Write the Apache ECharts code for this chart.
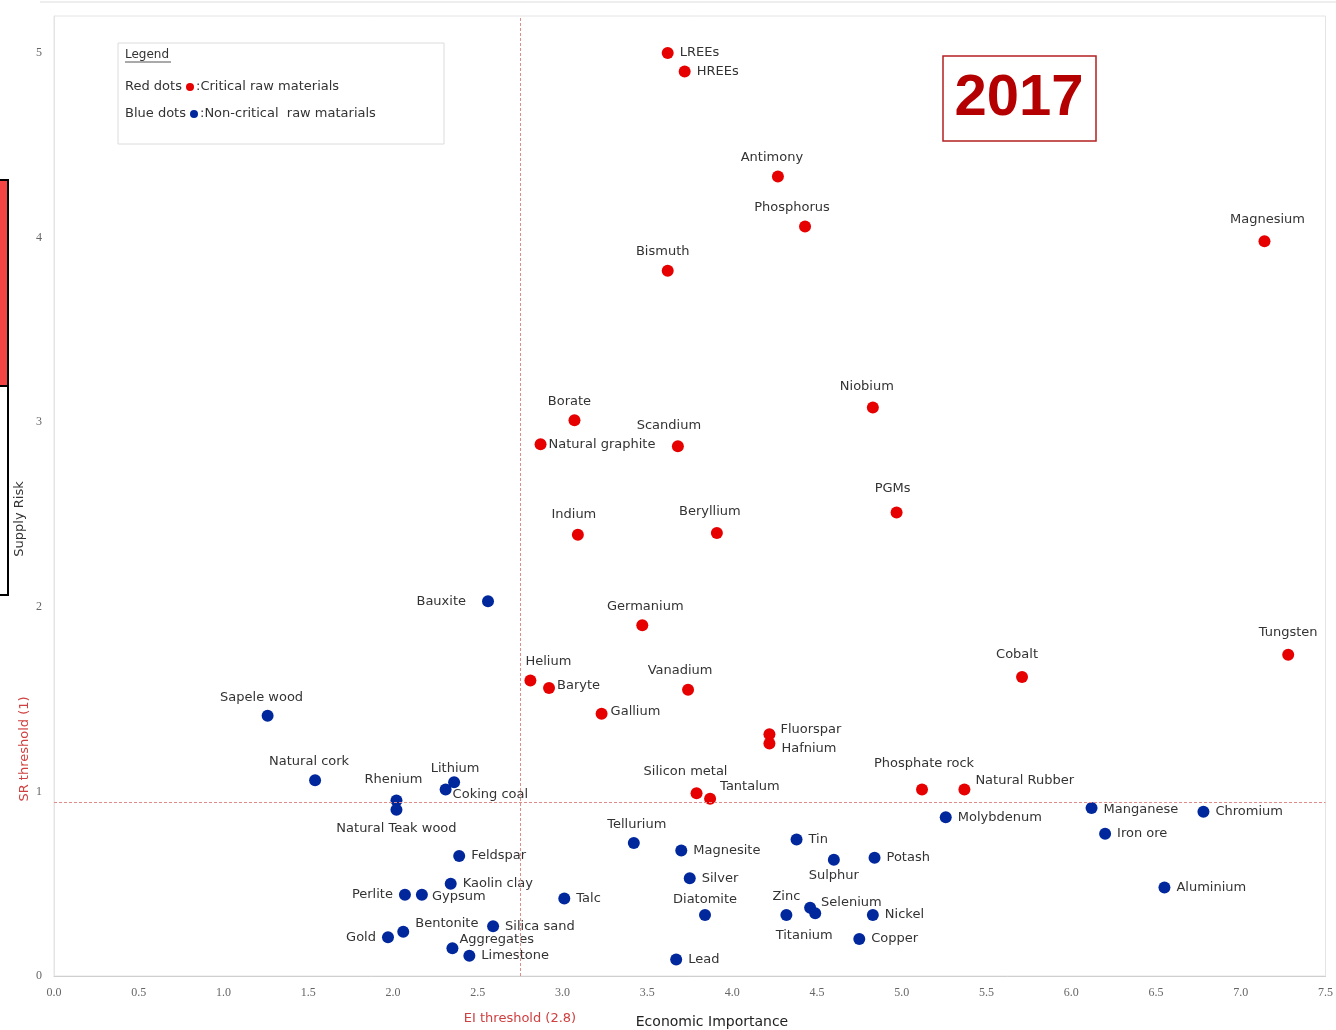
<!DOCTYPE html>
<html>
<head>
<meta charset="utf-8">
<title>Criticality assessment 2017</title>
<script src="https://cdn.jsdelivr.net/npm/echarts@6/dist/echarts.min.js"></script>
<style>
  html, body { margin: 0; padding: 0; background: #fff; }
  #main { width: 1336px; height: 1030px; }
</style>
</head>
<body>
<div id="main"></div>
<script>
// critical raw materials (red)
var criticalNames = ['LREEs', 'HREEs', 'Antimony', 'Phosphorus', 'Bismuth', 'Magnesium', 'Niobium',
  'Borate', 'Natural graphite', 'Scandium', 'PGMs', 'Indium', 'Beryllium', 'Germanium', 'Tungsten',
  'Cobalt', 'Helium', 'Baryte', 'Vanadium', 'Gallium', 'Fluorspar', 'Hafnium', 'Silicon metal',
  'Tantalum', 'Phosphate rock', 'Natural Rubber'];
var criticalEI = [3.62, 3.72, 4.27, 4.43, 3.62, 7.14, 4.83,
  3.07, 2.87, 3.68, 4.97, 3.09, 3.91, 3.47, 7.28,
  5.71, 2.81, 2.92, 3.74, 3.23, 4.22, 4.22, 3.79,
  3.87, 5.12, 5.37];
var criticalSR = [5.0, 4.9, 4.33, 4.06, 3.82, 3.98, 3.08,
  3.01, 2.88, 2.87, 2.51, 2.39, 2.4, 1.9, 1.74,
  1.62, 1.6, 1.56, 1.55, 1.42, 1.31, 1.26, 0.99,
  0.96, 1.01, 1.01];

// non-critical raw materials (blue)
var nonCriticalNames = ['Bauxite', 'Sapele wood', 'Natural cork', 'Rhenium', 'Natural Teak wood',
  'Lithium', 'Coking coal', 'Feldspar', 'Kaolin clay', 'Perlite', 'Gypsum', 'Talc', 'Silica sand',
  'Gold', 'Bentonite', 'Aggregates', 'Limestone', 'Tellurium', 'Magnesite', 'Silver', 'Diatomite',
  'Lead', 'Tin', 'Sulphur', 'Potash', 'Zinc', 'Selenium', 'Titanium', 'Nickel', 'Copper',
  'Molybdenum', 'Manganese', 'Chromium', 'Iron ore', 'Aluminium'];
var nonCriticalEI = [2.56, 1.26, 1.54, 2.02, 2.02,
  2.36, 2.31, 2.39, 2.34, 2.07, 2.17, 3.01, 2.59,
  1.97, 2.06, 2.35, 2.45, 3.42, 3.7, 3.75, 3.84,
  3.67, 4.38, 4.6, 4.84, 4.32, 4.46, 4.49, 4.83, 4.75,
  5.26, 6.12, 6.78, 6.2, 6.55];
var nonCriticalSR = [2.03, 1.41, 1.06, 0.95, 0.9,
  1.05, 1.01, 0.65, 0.5, 0.44, 0.44, 0.42, 0.27,
  0.21, 0.24, 0.15, 0.11, 0.72, 0.68, 0.53, 0.33,
  0.09, 0.74, 0.63, 0.64, 0.33, 0.37, 0.34, 0.33, 0.2,
  0.86, 0.91, 0.89, 0.77, 0.48];

// thresholds as drawn on the chart
var eiThreshold = 2.75;
var srThreshold = 0.94;

// axis ticks
var xTicks = ['0.0', '0.5', '1.0', '1.5', '2.0', '2.5', '3.0', '3.5', '4.0', '4.5', '5.0', '5.5', '6.0', '6.5', '7.0', '7.5'];

// label placement: [position, dx, dy]
var labelPlace = {
  'LREEs': ['right', 0, 0], 'HREEs': ['right', 0, 0], 'Antimony': ['top', -6, 0],
  'Phosphorus': ['top', -13, 0], 'Bismuth': ['top', -5, -1], 'Magnesium': ['top', 3, -3],
  'Niobium': ['top', -6, -2], 'Borate': ['top', -5, 0], 'Natural graphite': ['right', -4, 0],
  'Scandium': ['top', -9, -2], 'PGMs': ['top', -4, -5], 'Indium': ['top', -4, -2],
  'Beryllium': ['top', -7, -3], 'Germanium': ['top', 3, 0], 'Tungsten': ['top', 0, -4],
  'Cobalt': ['top', -5, -4], 'Helium': ['top', 18, 0], 'Baryte': ['right', -4, -2],
  'Vanadium': ['top', -8, -1], 'Gallium': ['right', -3, -2], 'Fluorspar': ['right', -1, -5],
  'Hafnium': ['right', 0, 5], 'Silicon metal': ['top', -11, -3], 'Tantalum': ['right', -2, -12],
  'Phosphate rock': ['top', 2, -7], 'Natural Rubber': ['right', -1, -9],
  'Bauxite': ['left', -10, 0], 'Sapele wood': ['top', -6, 0], 'Natural cork': ['top', -6, 0],
  'Rhenium': ['top', -3, -2], 'Natural Teak wood': ['bottom', 0, 0], 'Lithium': ['top', 1, 5],
  'Coking coal': ['right', -5, 5], 'Feldspar': ['right', 0, 0], 'Kaolin clay': ['right', 0, 0],
  'Perlite': ['left', 0, 0], 'Gypsum': ['right', -2, 2], 'Talc': ['right', 0, 0],
  'Silica sand': ['right', 0, 0], 'Gold': ['left', 0, 0], 'Bentonite': ['right', 0, -8],
  'Aggregates': ['right', -5, -9], 'Limestone': ['right', 0, 0], 'Tellurium': ['top', 3, 0],
  'Magnesite': ['right', 0, 0], 'Silver': ['right', 0, 0], 'Diatomite': ['top', 0, 3],
  'Lead': ['right', 0, 0], 'Tin': ['right', 0, 0], 'Sulphur': ['bottom', 0, -3],
  'Potash': ['right', 0, 0], 'Zinc': ['top', 0, 0], 'Selenium': ['right', -1, -5],
  'Titanium': ['bottom', -11, 4], 'Nickel': ['right', 0, 0], 'Copper': ['right', 0, 0],
  'Molybdenum': ['right', 0, 0], 'Manganese': ['right', 0, 2], 'Chromium': ['right', 0, 0],
  'Iron ore': ['right', 0, 0], 'Aluminium': ['right', 0, 0]
};

function buildPoints(names, ei, sr) {
  return names.map(function (n, i) {
    var p = labelPlace[n] || ['right', 0, 0];
    return {
      name: n,
      value: [ei[i], sr[i]],
      label: { position: p[0], offset: [p[1], p[2]] }
    };
  });
}

var labelFont = { show: true, formatter: '{b}', color: '#333', fontFamily: 'DejaVu Sans', fontSize: 13, distance: 6 };

var myChart = echarts.init(document.getElementById('main'));

var option = {
  backgroundColor: '#fff',
  animation: false,
  grid: { left: 54, right: 9, top: 16, bottom: 54, show: true, borderColor: '#e4e4e4', borderWidth: 1 },
  xAxis: {
    type: 'value', min: 0, max: 7.5, interval: 0.5,
    axisLine: { show: true, lineStyle: { color: '#cfcfcf' } },
    axisTick: { show: false },
    splitLine: { show: false },
    axisLabel: {
      margin: 11, color: '#666', fontFamily: 'Liberation Serif', fontSize: 12,
      formatter: function (v) { return xTicks[Math.round(v / 0.5)]; }
    }
  },
  yAxis: {
    type: 'value', min: 0, max: 5.2, interval: 1,
    axisLine: { show: true, lineStyle: { color: '#e4e4e4' } },
    axisTick: { show: false },
    splitLine: { show: false },
    axisLabel: { margin: 12, color: '#666', fontFamily: 'Liberation Serif', fontSize: 12, showMaxLabel: false }
  },
  series: [
    {
      name: 'Critical raw materials',
      type: 'scatter',
      symbolSize: 12,
      itemStyle: { color: '#e60000', opacity: 1 },
      label: labelFont,
      data: buildPoints(criticalNames, criticalEI, criticalSR),
      markLine: {
        silent: true,
        symbol: 'none',
        label: { show: false },
        lineStyle: { color: '#e08a8a', type: [3, 2], width: 1 },
        data: [{ xAxis: eiThreshold }, { yAxis: srThreshold }]
      }
    },
    {
      name: 'Non-critical raw materials',
      type: 'scatter',
      symbolSize: 12,
      itemStyle: { color: '#00279c', opacity: 1 },
      label: labelFont,
      data: buildPoints(nonCriticalNames, nonCriticalEI, nonCriticalSR)
    }
  ],
  graphic: [
    // faint top rule and left edge slide artefacts
    { type: 'line', shape: { x1: 40, y1: 2, x2: 1336, y2: 2 }, style: { stroke: '#dddddd', lineWidth: 1 } },
    { type: 'rect', shape: { x: -3, y: 180, width: 11, height: 206 }, style: { fill: '#f44444', stroke: '#000', lineWidth: 2 } },
    { type: 'rect', shape: { x: -3, y: 386, width: 11, height: 209 }, style: { fill: '#fff', stroke: '#000', lineWidth: 2 } },
    // legend box
    { type: 'rect', shape: { x: 118, y: 43, width: 326, height: 101 }, style: { fill: '#fff', stroke: '#dcdcdc', lineWidth: 1 } },
    { type: 'text', x: 125, y: 55, style: { text: 'Legend', font: '12px "DejaVu Sans"', fill: '#333', verticalAlign: 'middle' } },
    { type: 'line', shape: { x1: 125, y1: 62, x2: 171, y2: 62 }, style: { stroke: '#555', lineWidth: 1 } },
    { type: 'text', x: 125, y: 87, style: { text: 'Red dots', font: '13px "DejaVu Sans"', fill: '#333', verticalAlign: 'middle' } },
    { type: 'circle', shape: { cx: 190, cy: 87, r: 4 }, style: { fill: '#e60000' } },
    { type: 'text', x: 196, y: 87, style: { text: ':Critical raw materials', font: '13px "DejaVu Sans"', fill: '#333', verticalAlign: 'middle' } },
    { type: 'text', x: 125, y: 114, style: { text: 'Blue dots', font: '13px "DejaVu Sans"', fill: '#333', verticalAlign: 'middle' } },
    { type: 'circle', shape: { cx: 194, cy: 114, r: 4 }, style: { fill: '#00279c' } },
    { type: 'text', x: 200, y: 114, style: { text: ':Non-critical  raw matarials', font: '13px "DejaVu Sans"', fill: '#333', verticalAlign: 'middle' } },
    // year box
    { type: 'rect', shape: { x: 943, y: 56, width: 153, height: 85 }, style: { fill: '#fff', stroke: '#b42020', lineWidth: 1.5 } },
    { type: 'text', x: 1019, y: 99, style: { text: '2017', font: 'bold 58px "Liberation Sans"', fill: '#b40000', align: 'center', verticalAlign: 'middle' } },
    // axis titles
    { type: 'text', x: 712, y: 1022, style: { text: 'Economic Importance', font: '14px "DejaVu Sans"', fill: '#222', align: 'center', verticalAlign: 'middle' } },
    { type: 'text', x: 520, y: 1019, style: { text: 'EI threshold (2.8)', font: '13px "DejaVu Sans"', fill: '#d04040', align: 'center', verticalAlign: 'middle' } },
    { type: 'text', x: 20, y: 519, rotation: Math.PI / 2, style: { text: 'Supply Risk', font: '13px "DejaVu Sans"', fill: '#333', align: 'center', verticalAlign: 'middle' } },
    { type: 'text', x: 25, y: 749, rotation: Math.PI / 2, style: { text: 'SR threshold (1)', font: '13px "DejaVu Sans"', fill: '#d04040', align: 'center', verticalAlign: 'middle' } }
  ]
};

myChart.setOption(option);
</script>
</body>
</html>
